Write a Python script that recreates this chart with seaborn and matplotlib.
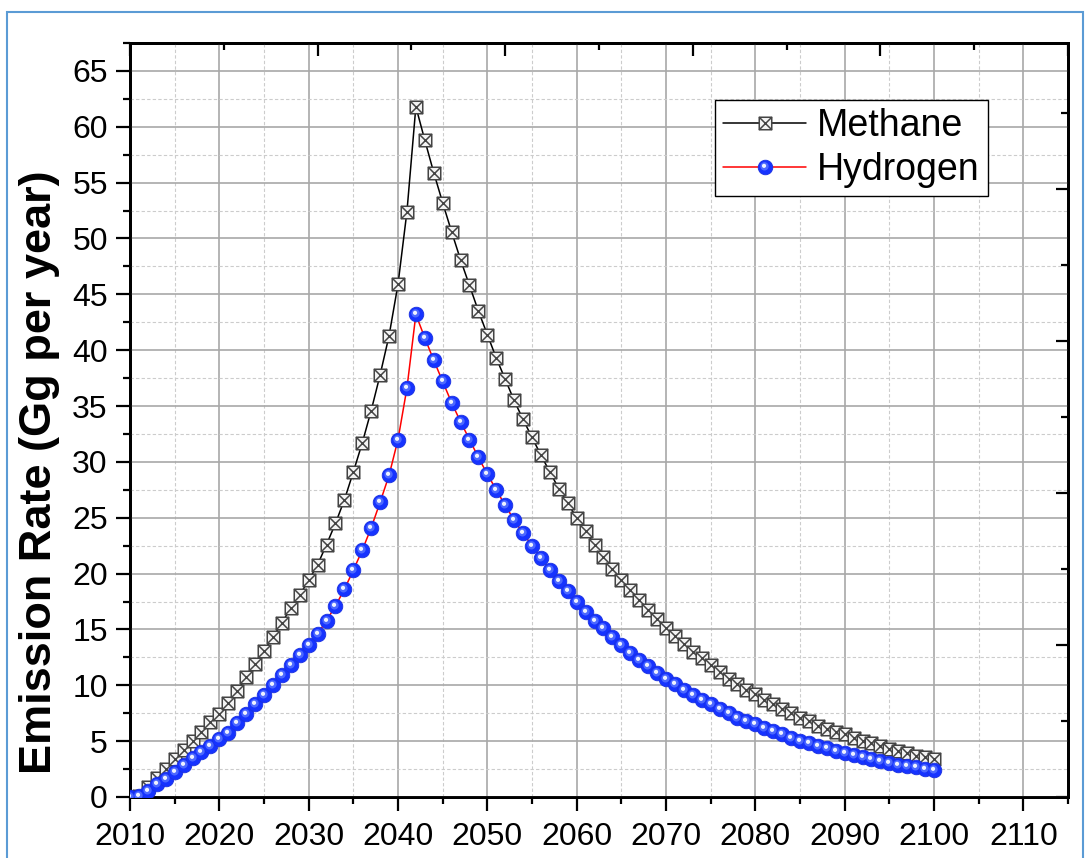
import numpy as np
import pandas as pd
import seaborn as sns
import matplotlib
matplotlib.use("Agg")
import matplotlib.pyplot as plt
from matplotlib.path import Path
from matplotlib.markers import MarkerStyle
from matplotlib.transforms import Affine2D
from matplotlib.lines import Line2D
from matplotlib.patches import Rectangle
from matplotlib.ticker import MultipleLocator, NullFormatter

sns.set_style("white")
plt.rcParams["font.family"] = ["Liberation Sans", "DejaVu Sans"]
plt.rcParams["text.color"] = "black"
plt.rcParams["axes.labelcolor"] = "black"

years = list(range(2010, 2101))
methane = [0.0, 0.1, 0.9, 1.7, 2.55, 3.4, 4.2, 5.0, 5.85, 6.7,
           7.4, 8.4, 9.5, 10.7, 11.9, 13.1, 14.3, 15.6, 16.9, 18.1,
           19.4, 20.8, 22.6, 24.5, 26.6, 29.1, 31.7, 34.6, 37.8, 41.3,
           45.9, 52.4, 61.8, 58.8, 55.9, 53.2, 50.6, 48.1, 45.8, 43.5,
           41.4, 39.3, 37.4, 35.5, 33.8, 32.2, 30.6, 29.1, 27.6, 26.3,
           25.0, 23.8, 22.6, 21.5, 20.4, 19.4, 18.5, 17.6, 16.7, 15.9,
           15.1, 14.4, 13.7, 13.0, 12.4, 11.8, 11.2, 10.6, 10.1, 9.6,
           9.2, 8.7, 8.3, 7.9, 7.5, 7.1, 6.8, 6.4, 6.1, 5.8,
           5.6, 5.3, 5.0, 4.8, 4.6, 4.3, 4.1, 3.9, 3.7, 3.6,
           3.4]
hydrogen = [0.0, 0.05, 0.5, 1.2, 1.65, 2.25, 2.9, 3.45, 4.0, 4.6,
            5.15, 5.75, 6.6, 7.45, 8.3, 9.15, 10.0, 10.9, 11.8, 12.7,
            13.65, 14.6, 15.8, 17.1, 18.6, 20.3, 22.1, 24.1, 26.4, 28.8,
            32.0, 36.6, 43.2, 41.1, 39.1, 37.2, 35.3, 33.6, 32.0, 30.4,
            28.9, 27.5, 26.1, 24.8, 23.6, 22.5, 21.4, 20.3, 19.3, 18.4,
            17.5, 16.6, 15.8, 15.1, 14.3, 13.6, 12.9, 12.3, 11.7, 11.1,
            10.6, 10.1, 9.6, 9.15, 8.7, 8.3, 7.9, 7.5, 7.1, 6.8,
            6.5, 6.2, 5.9, 5.6, 5.3, 5.05, 4.8, 4.55, 4.35, 4.15,
            3.95, 3.75, 3.55, 3.4, 3.2, 3.05, 2.9, 2.75, 2.65, 2.5,
            2.4]
labels = ["Methane", "Hydrogen"]

df = pd.DataFrame({"year": years, "Methane": methane, "Hydrogen": hydrogen})

# square with a cross inside (Origin style marker)
sqx = Path([(-1, -1), (1, -1), (1, 1), (-1, 1), (-1, -1),
            (-1, -1), (1, 1), (-1, 1), (1, -1)],
           [Path.MOVETO, Path.LINETO, Path.LINETO, Path.LINETO, Path.CLOSEPOLY,
            Path.MOVETO, Path.LINETO, Path.MOVETO, Path.LINETO])
mid = MarkerStyle("o", transform=Affine2D().translate(-0.12, 0.14))
hi = MarkerStyle("o", transform=Affine2D().translate(-0.35, 0.4))

fig = plt.figure(figsize=(10.9, 8.58), dpi=100)
ax = fig.add_axes([130 / 1090, 1 - 797 / 858, 938 / 1090, 754 / 858])

sns.lineplot(data=df, x="year", y="Methane", ax=ax, color="black", lw=1.1,
             marker=sqx, ms=9, mfc="#f4f4f4", mec="#444444", mew=1.1, zorder=3)
sns.lineplot(data=df, x="year", y="Hydrogen", ax=ax, color="red", lw=1.1,
             marker="o", ms=10.5, mfc="#1633ff", mec="#1a30e0", mew=0.6, zorder=4)
ax.plot(df["year"], df["Hydrogen"], ls="none", marker=mid, ms=6, mfc="#5a76ff",
        mec="none", alpha=0.8, zorder=5)
ax.plot(df["year"], df["Hydrogen"], ls="none", marker=hi, ms=3, mfc="#eef2ff",
        mec="none", zorder=6)

ax.set_xlim(2010, 2115)
ax.set_ylim(0, 67.5)
ax.xaxis.set_major_locator(MultipleLocator(10))
ax.xaxis.set_minor_locator(MultipleLocator(5))
ax.yaxis.set_major_locator(MultipleLocator(5))
ax.yaxis.set_minor_locator(MultipleLocator(2.5))
ax.set_xticks(range(2010, 2111, 10))

ax.grid(which="major", color="#a8a8a8", lw=1.2, ls="-", zorder=0)
ax.grid(which="minor", color="#cccccc", lw=0.8, ls=(0, (3, 2)), zorder=0)
ax.set_axisbelow(True)

for s in ax.spines.values():
    s.set_color("black")
    s.set_linewidth(2.0)
ax.tick_params(which="major", direction="out", length=10, width=1.6,
               labelsize=23, pad=6, colors="black")
ax.tick_params(which="minor", direction="out", length=5, width=1.6, colors="black")
ax.tick_params(axis="x", which="major", pad=8)

ax.set_xlabel("")
ax.set_ylabel("Emission Rate (Gg per year)", fontsize=32.5, fontweight="bold")
ax.yaxis.set_label_coords(-0.075, 0.431)

# opposite axes: inward ticks, no labels
ry = ax.twinx()
ry.set_ylim(0, 67.5 / 13.6)
ry.yaxis.set_major_locator(MultipleLocator(1))
ry.yaxis.set_minor_locator(MultipleLocator(0.5))
ry.yaxis.set_major_formatter(NullFormatter())
ry.tick_params(which="major", direction="in", length=9, width=1.6, colors="black")
ry.tick_params(which="minor", direction="in", length=5, width=1.6, colors="black")
tx = ax.twiny()
tx.set_xlim(0, 105 / 21.0)
tx.xaxis.set_major_locator(MultipleLocator(1))
tx.xaxis.set_minor_locator(MultipleLocator(0.5))
tx.xaxis.set_major_formatter(NullFormatter())
tx.tick_params(which="major", direction="in", length=9, width=1.6, colors="black")
tx.tick_params(which="minor", direction="in", length=5, width=1.6, colors="black")
for a in (ry, tx):
    a.grid(False)
    for s in a.spines.values():
        s.set_linewidth(2.0)
        s.set_color("black")

h_m = Line2D([], [], color="black", lw=1.1, marker=sqx, ms=9,
             mfc="#f4f4f4", mec="#444444", mew=1.1)
h_h = (Line2D([], [], color="red", lw=1.1, marker="o", ms=10.5, mfc="#1633ff",
              mec="#1a30e0", mew=0.6),
       Line2D([], [], ls="none", marker=mid, ms=6, mfc="#5a76ff", mec="none", alpha=0.8),
       Line2D([], [], ls="none", marker=hi, ms=3, mfc="#eef2ff", mec="none"))
leg = ax.legend([h_m, h_h], labels, loc="upper right",
                bbox_to_anchor=(0.9147, 0.9244), fontsize=27, frameon=True,
                fancybox=False, framealpha=1, edgecolor="black",
                handlelength=2.2, handletextpad=0.3, labelspacing=0.2,
                borderpad=0.22, borderaxespad=0)
leg.get_frame().set_linewidth(1.0)
leg.set_zorder(10)
ax.set_zorder(ry.get_zorder() + 1)
ax.patch.set_visible(False)

fig.patches.append(Rectangle((7 / 1090, -0.05), 1076 / 1090, 1.05 - 12 / 858,
                             transform=fig.transFigure, fill=False,
                             edgecolor="#5b9bd5", lw=1.5))

fig.savefig("out.png", dpi=100)
